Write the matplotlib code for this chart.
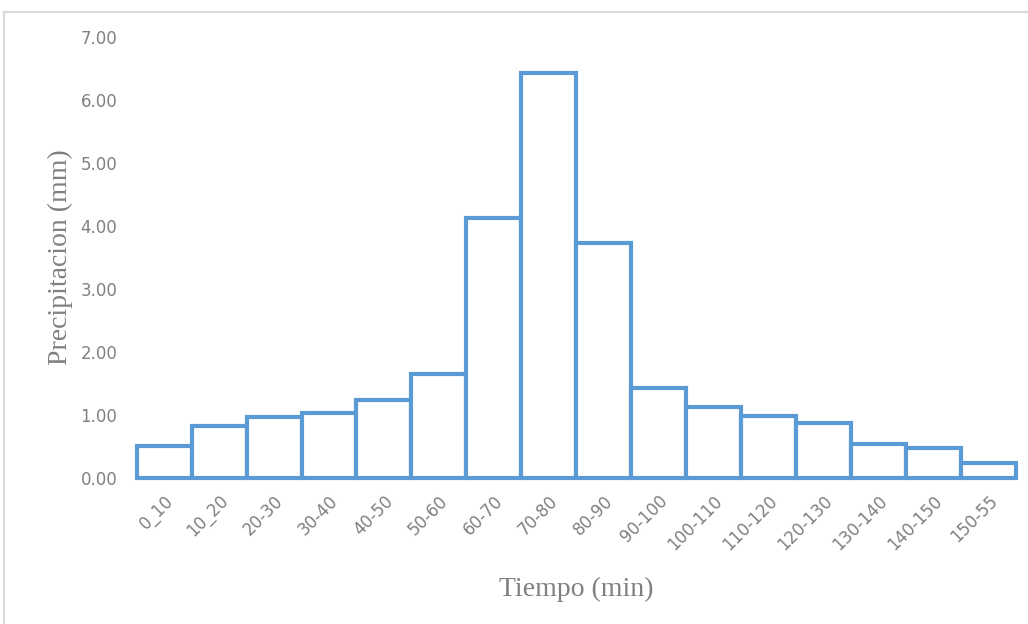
import numpy as np
import matplotlib.pyplot as plt
from matplotlib.patches import Rectangle

# intervalos de tiempo y precipitacion
intervalos = ['0_10', '10_20', '20-30', '30-40', '40-50', '50-60', '60-70', '70-80',
              '80-90', '90-100', '100-110', '110-120', '120-130', '130-140', '140-150', '150-55']
precipitacion = [0.50, 0.83, 0.96, 1.03, 1.24, 1.65, 4.13, 6.43,
                 3.73, 1.42, 1.12, 0.99, 0.88, 0.54, 0.48, 0.23]

gris = '#808080'
azul = '#5B9BD5'

fig = plt.figure(figsize=(10.28, 6.24), dpi=100)
ax = fig.add_axes([0.133, 0.234, 0.855, 0.707])

x = np.arange(len(intervalos))
barras = ax.bar(x, precipitacion, width=1.0, color='white', edgecolor=azul, linewidth=3)
for b in barras:
    b.set_clip_on(False)

ax.set_xlim(-0.5, len(intervalos) - 0.5)
ax.set_ylim(0, 7)
ax.set_yticks(np.arange(0, 8, 1))
ax.set_yticklabels([f'{v:.2f}' for v in range(8)], fontsize=12, color=gris,
                   family='Liberation Sans Narrow')
ax.set_xticks(x)
ax.set_xticklabels(intervalos, rotation=45, ha='right', rotation_mode='anchor',
                   fontsize=12, color=gris, family='Liberation Sans Narrow')
ax.tick_params(length=0, pad=14)
ax.tick_params(axis='x', pad=10)
for s in ax.spines.values():
    s.set_visible(False)

ax.set_ylabel('Precipitacion (mm)', family='Liberation Serif', fontsize=20, color=gris)
ax.yaxis.set_label_coords(-0.072, 0.5)
ax.set_xlabel('Tiempo (min)', family='Liberation Serif', fontsize=20, color=gris)
ax.xaxis.set_label_coords(0.5, -0.225)

# marco del grafico
fig.patches.append(Rectangle((4 / 1028, -0.1), 1.2, 1 - 12 / 624 + 0.1, transform=fig.transFigure,
                             fill=False, edgecolor='#D9D9D9', linewidth=1.5))

fig.savefig('out.png', dpi=100)
